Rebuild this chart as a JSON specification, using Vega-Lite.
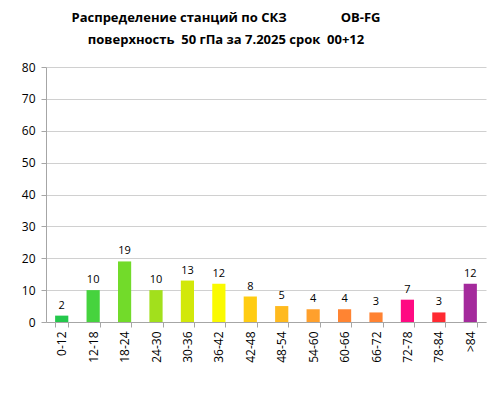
{
  "$schema": "https://vega.github.io/schema/vega-lite/v6.json",
  "autosize": {"type": "none"},
  "width": 440,
  "height": 255,
  "padding": {"left": 46, "top": 67, "right": 10, "bottom": 77},
  "background": "white",
  "title": {
    "text": ["Распределение станций по СКЗ\u00a0\u00a0\u00a0\u00a0\u00a0\u00a0\u00a0\u00a0\u00a0\u00a0\u00a0\u00a0\u00a0\u00a0\u00a0\u00a0OB-FG", "поверхность\u00a0 50 гПа за 7.2025 срок\u00a0 00+12"],
    "font": "Open Sans",
    "fontSize": 13,
    "fontWeight": "bold",
    "color": "#000000",
    "anchor": "middle",
    "dx": -40,
    "offset": 14,
    "lineHeight": 22
  },
  "data": {
    "values": [
      {"range": "0-12", "count": 2, "color": "#24c84c"},
      {"range": "12-18", "count": 10, "color": "#46d33e"},
      {"range": "18-24", "count": 19, "color": "#72db2a"},
      {"range": "24-30", "count": 10, "color": "#a2e01c"},
      {"range": "30-36", "count": 13, "color": "#d2e80a"},
      {"range": "36-42", "count": 12, "color": "#fafa00"},
      {"range": "42-48", "count": 8, "color": "#ffcc12"},
      {"range": "48-54", "count": 5, "color": "#ffba1e"},
      {"range": "54-60", "count": 4, "color": "#ffa02c"},
      {"range": "60-66", "count": 4, "color": "#ff8432"},
      {"range": "66-72", "count": 3, "color": "#ff8232"},
      {"range": "72-78", "count": 7, "color": "#ff0a82"},
      {"range": "78-84", "count": 3, "color": "#ff2a32"},
      {"range": ">84", "count": 12, "color": "#a42a9c"}
    ]
  },
  "encoding": {
    "x": {
      "field": "range",
      "type": "nominal",
      "sort": null,
      "scale": {"paddingInner": 0.58, "paddingOuter": 0.29},
      "axis": {
        "title": null,
        "labelAngle": 270,
        "labelFont": "Open Sans",
        "labelFontSize": 12,
        "labelColor": "#000000",
        "labelPadding": 4,
        "tickBand": "extent",
        "tickSize": 5,
        "tickColor": "#a6a6a6",
        "domainColor": "#a6a6a6"
      }
    },
    "y": {
      "field": "count",
      "type": "quantitative",
      "scale": {"domain": [0, 80]},
      "axis": {
        "title": null,
        "values": [0, 10, 20, 30, 40, 50, 60, 70, 80],
        "labelFont": "Open Sans",
        "labelFontSize": 12,
        "labelColor": "#000000",
        "labelPadding": 6,
        "tickSize": 5,
        "tickColor": "#a6a6a6",
        "domainColor": "#a6a6a6",
        "gridColor": "#d0d0d0",
        "gridWidth": 1
      }
    }
  },
  "layer": [
    {
      "mark": {"type": "bar"},
      "encoding": {
        "color": {"field": "color", "type": "nominal", "scale": null}
      }
    },
    {
      "mark": {"type": "text", "baseline": "bottom", "dy": -5, "font": "Open Sans", "fontSize": 11, "color": "#000000"},
      "encoding": {"text": {"field": "count", "type": "quantitative"}}
    }
  ],
  "config": {"view": {"stroke": null}}
}
